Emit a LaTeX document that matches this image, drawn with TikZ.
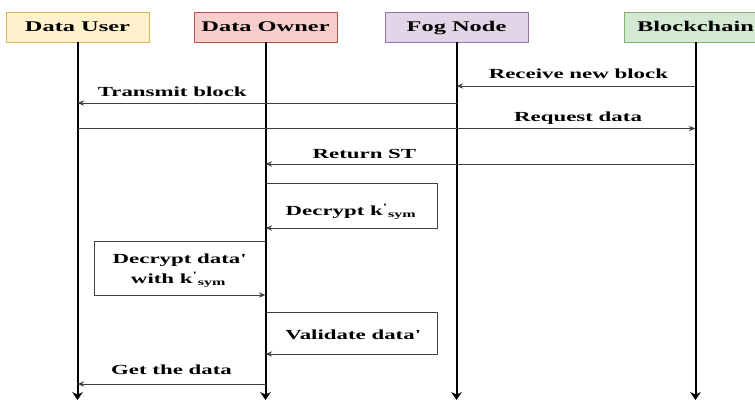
\documentclass[tikz,border=0pt]{standalone}
\usepackage{fontspec}
\newfontfamily\seqfont{Liberation Serif}[FakeStretch=1.65]
\usetikzlibrary{arrows.meta}
\definecolor{userfill}{HTML}{FFF2CC}
\definecolor{userline}{HTML}{D6B656}
\definecolor{ownerfill}{HTML}{F8CECC}
\definecolor{ownerline}{HTML}{B85450}
\definecolor{fogfill}{HTML}{E1D5E7}
\definecolor{fogline}{HTML}{9673A6}
\definecolor{chainfill}{HTML}{D5E8D4}
\definecolor{chainline}{HTML}{82B366}
\begin{document}
\begin{tikzpicture}[x=.75pt, y=-.75pt, >=stealth, line join=round,
	head/.style={draw, rectangle, minimum width=107.25pt, minimum height=22.5pt, inner sep=0pt,
		text depth=1pt, font=\seqfont\bfseries\fontsize{11.1}{13}\selectfont},
	life/.style={line width=1.5pt, -{Stealth[length=6pt, width=8pt]}},
	msg/.style={draw=black!75, line width=.75pt, -{Stealth[length=5pt, width=4pt]}},
	lbl/.style={font=\seqfont\bfseries\fontsize{10.4}{15}\selectfont, inner sep=0pt, anchor=base, align=center}]
	%% Khung
	\useasboundingbox (0,0) rectangle (755,401);
	\clip (0,0) rectangle (755,401);
	%% Cac muc thoi gian
	\def\yend{400}
	\def\yrecv{86}
	\def\ysend{103}
	\def\yreq{128.5}
	\def\yret{164}
	\def\yget{384}
	%% Cac doi tuong
	\node [head, fill=userfill, draw=userline] (du) at (77.5,27) {Data User};
	\node [head, fill=ownerfill, draw=ownerline] (do) at (265.5,27) {Data Owner};
	\node [head, fill=fogfill, draw=fogline] (fog) at (456.5,27) {Fog Node};
	\node [head, fill=chainfill, draw=chainline] (bc) at (695.5,27) {Blockchain};
	%% Duong song
	\foreach \n in {du,do,fog,bc} {
		\coordinate (\n-end) at (\n |- 0,\yend);
		\draw [life] (\n) -- (\n-end);
	}
	%% Cac thong diep
	\draw [msg] (bc |- 0,\yrecv) -- node [lbl, pos=.49, yshift=5.8pt] {Receive new block} (fog |- 0,\yrecv);
	\draw [msg] (fog |- 0,\ysend) -- node [lbl, pos=.75, yshift=5pt] {Transmit block} (du |- 0,\ysend);
	\draw [msg] (du |- 0,\yreq) -- node [lbl, pos=.81, yshift=5.5pt] {Request data} (bc |- 0,\yreq);
	\draw [msg] (bc |- 0,\yret) -- node [lbl, pos=.77, yshift=4.3pt] {Return ST} (do |- 0,\yret);
	%% Tu xu ly
	\draw [msg] (do |- 0,183) -| (437,228) -- (do |- 0,228);
	\node [lbl] (deck) at (351,215) {Decrypt k\textsuperscript{'}\textsubscript{sym}};
	\draw [msg] (do |- 0,241) -| (94,295) -- (do |- 0,295);
	\node [lbl] (decd) at (178.5,283) {Decrypt data\textquotesingle\\with k\textsuperscript{'}\textsubscript{sym}};
	\draw [msg] (do |- 0,312) -| (437,354) -- (do |- 0,354);
	\node [lbl] (val) at (352,339) {Validate data\textquotesingle};
	\draw [msg] (do |- 0,\yget) -- node [lbl, pos=.5, yshift=7.5pt] {Get the data} (du |- 0,\yget);
\end{tikzpicture}
\end{document}
